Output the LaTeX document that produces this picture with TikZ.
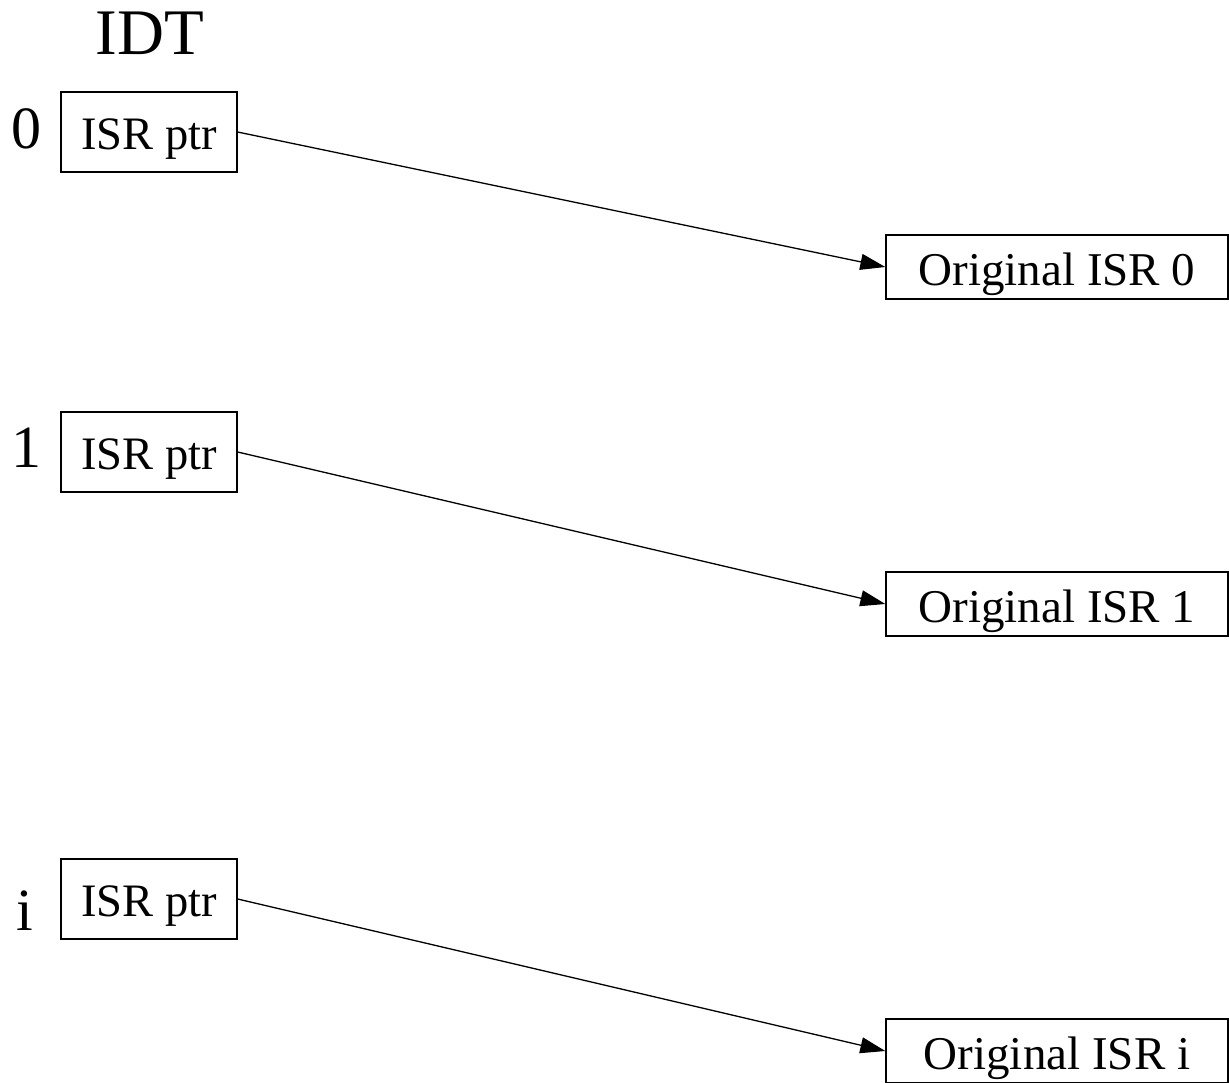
\documentclass[tikz,border=0pt]{standalone}
\usepackage{fontspec}
\setmainfont{Liberation Serif}
\usetikzlibrary{arrows.meta}
\begin{document}
\begin{tikzpicture}[x=1pt,y=-1pt,
  ptrbox/.style={draw,line width=1.3pt,minimum width=176pt,minimum height=80pt,inner sep=0pt,text height=34pt,text depth=0pt,font=\fontsize{46.5}{52}\selectfont},
  isrbox/.style={draw,line width=1.3pt,minimum width=342pt,minimum height=64pt,inner sep=0pt,text height=37pt,text depth=0pt,font=\fontsize{47}{52}\selectfont},
  idxlabel/.style={font=\fontsize{60}{66}\selectfont,inner sep=0pt,anchor=base},
  conn/.style={line width=1.3pt,-{Triangle[length=25pt,width=16pt]}}]
\useasboundingbox (0,0) rectangle (1229,1082);
\clip (0,0) rectangle (1229,1082);
\node[font=\fontsize{65}{72}\selectfont,inner sep=0pt,anchor=base] (idt) at (150,54) {IDT};
\node[idxlabel] (l0) at (26,148) {0};
\node[idxlabel] (l1) at (27,467) {1};
\node[idxlabel] (li) at (25,930) {i};
\node[ptrbox] (p0) at (149,132) {ISR ptr};
\node[ptrbox] (p1) at (149,452) {ISR ptr};
\node[ptrbox] (pi) at (149,899) {ISR ptr};
\node[isrbox] (o0) at (1057,267) {Original ISR 0};
\node[isrbox] (o1) at (1057,604) {Original ISR 1};
\node[isrbox] (oi) at (1057,1051) {Original ISR i};
\draw[conn] (p0.east) -- (o0.west);
\draw[conn] (p1.east) -- (o1.west);
\draw[conn] (pi.east) -- (oi.west);
\end{tikzpicture}
\end{document}
